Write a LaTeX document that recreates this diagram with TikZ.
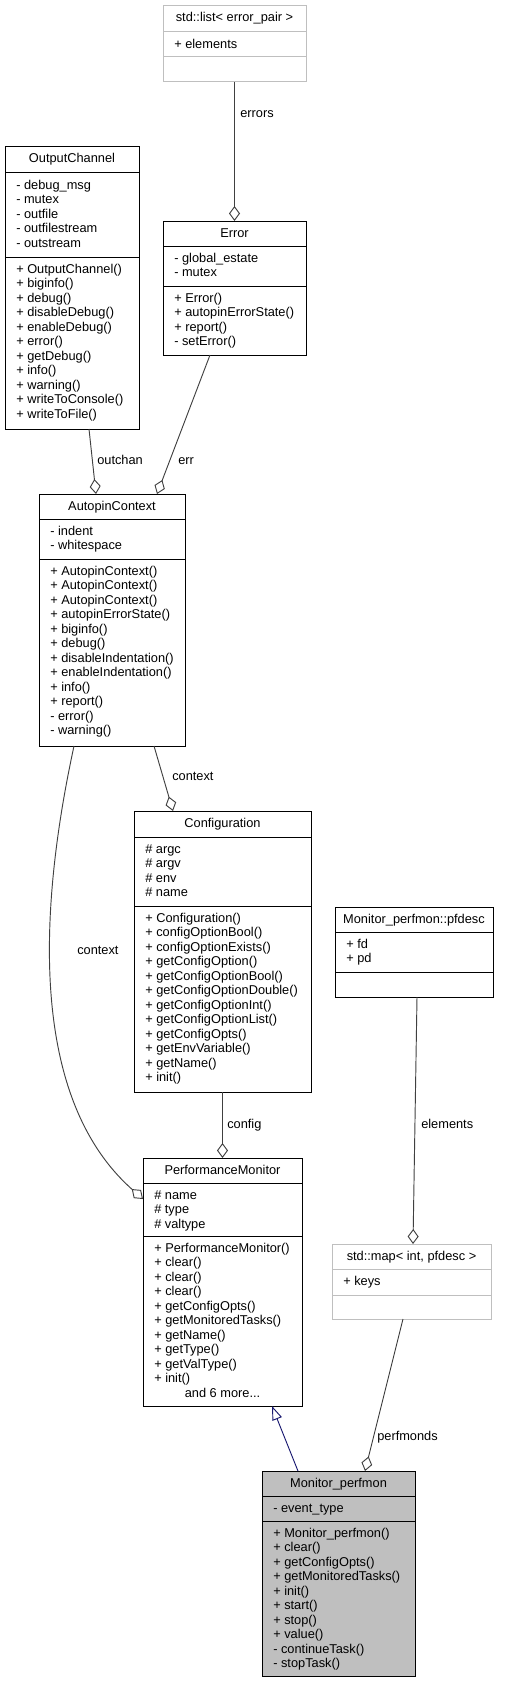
\documentclass[tikz,border=0pt]{standalone}
\usepackage{fontspec}
\setmainfont{Liberation Sans}
\usetikzlibrary{calc,arrows.meta}

\definecolor{edgegray}{HTML}{404040}
\definecolor{boxgray}{HTML}{BFBFBF}
\definecolor{navyblue}{HTML}{191970}
\newcommand{\umlfont}{\fontsize{9.6}{10.875}\selectfont}

\begin{document}
\begin{tikzpicture}[x=0.75pt, y=-0.75pt,
	classbox/.style={draw=black, line width=0.75pt, fill=white, inner sep=0pt, outer sep=0pt, anchor=north west},
	stdbox/.style={classbox, draw=boxgray},
	focusbox/.style={classbox, fill=boxgray},
	sepline/.style={draw=black, line width=0.75pt},
	stdsep/.style={sepline, draw=boxgray},
	title/.style={anchor=base, inner sep=0pt, font=\umlfont},
	members/.style={anchor=north west, inner sep=0pt, align=left, font=\umlfont},
	edgelabel/.style={anchor=base west, inner sep=0pt, font=\umlfont},
	uses/.style={draw=edgegray, line width=0.7pt, -{Diamond[open, length=11.25pt, width=8.25pt]}},
	inherits/.style={draw=navyblue, line width=0.7pt, -{Triangle[open, length=10.5pt, width=7.5pt]}}]

	% ---- parameters

	\def\px{0.75pt}

	\useasboundingbox (0,0) rectangle (507,1691);

	% ---- boxes

	\node[stdbox, minimum width=143*\px, minimum height=76*\px] (lst) at (163,6) {};
	\node[classbox, minimum width=134*\px, minimum height=282*\px] (oc) at (5,147) {};
	\node[classbox, minimum width=143*\px, minimum height=134*\px] (err) at (163,221) {};
	\node[classbox, minimum width=146*\px, minimum height=252*\px] (ac) at (39,494) {};
	\node[classbox, minimum width=177*\px, minimum height=281*\px] (cfg) at (134,811) {};
	\node[classbox, minimum width=158*\px, minimum height=90*\px] (pfd) at (335,907) {};
	\node[classbox, minimum width=159*\px, minimum height=248*\px] (pm) at (143,1158) {};
	\node[stdbox, minimum width=159*\px, minimum height=75*\px] (map) at (332,1244) {};
	\node[focusbox, minimum width=153*\px, minimum height=205*\px] (mp) at (262,1471) {};

	% ---- separators

	\draw[stdsep] (163,32) -- (306,32);
	\draw[stdsep] (163,57) -- (306,57);
	\draw[sepline] (5,173) -- (139,173);
	\draw[sepline] (5,257) -- (139,257);
	\draw[sepline] (163,246) -- (306,246);
	\draw[sepline] (163,286) -- (306,286);
	\draw[sepline] (39,519) -- (185,519);
	\draw[sepline] (39,559) -- (185,559);
	\draw[sepline] (134,837) -- (311,837);
	\draw[sepline] (134,906) -- (311,906);
	\draw[sepline] (335,932) -- (493,932);
	\draw[sepline] (335,972) -- (493,972);
	\draw[sepline] (143,1183) -- (302,1183);
	\draw[sepline] (143,1236) -- (302,1236);
	\draw[stdsep] (332,1269) -- (491,1269);
	\draw[stdsep] (332,1295) -- (491,1295);
	\draw[sepline] (262,1496) -- (415,1496);
	\draw[sepline] (262,1521) -- (415,1521);

	% ---- titles

	\node[title] (lst-title) at (234.5,22) {std::list< error\_pair >};
	\node[title] (oc-title) at (72,163) {OutputChannel};
	\node[title] (err-title) at (234.5,237) {Error};
	\node[title] (ac-title) at (112,510) {AutopinContext};
	\node[title] (cfg-title) at (222.5,827) {Configuration};
	\node[title] (pfd-title) at (414,923) {Monitor\_perfmon::pfdesc};
	\node[title] (pm-title) at (222.5,1174) {PerformanceMonitor};
	\node[title] (map-title) at (411.5,1260) {std::map< int, pfdesc >};
	\node[title] (mp-title) at (338.5,1487) {Monitor\_perfmon};

	% ---- members

	\node[members] (lst-attr) at (174,38) {\strut+ elements};

	\node[members] (oc-attr) at (16,179) {\strut- debug\_msg\\- mutex\\- outfile\\- outfilestream\\- outstream};
	\node[members] (oc-meth) at (16,263) {\strut+ OutputChannel()\\+ biginfo()\\+ debug()\\+ disableDebug()\\+ enableDebug()\\+ error()\\+ getDebug()\\+ info()\\+ warning()\\+ writeToConsole()\\+ writeToFile()};

	\node[members] (err-attr) at (174,252) {\strut- global\_estate\\- mutex};
	\node[members] (err-meth) at (174,292) {\strut+ Error()\\+ autopinErrorState()\\+ report()\\- setError()};

	\node[members] (ac-attr) at (50,525) {\strut- indent\\- whitespace};
	\node[members] (ac-meth) at (50,565) {\strut+ AutopinContext()\\+ AutopinContext()\\+ AutopinContext()\\+ autopinErrorState()\\+ biginfo()\\+ debug()\\+ disableIndentation()\\+ enableIndentation()\\+ info()\\+ report()\\- error()\\- warning()};

	\node[members] (cfg-attr) at (145,843) {\strut\# argc\\\# argv\\\# env\\\# name};
	\node[members] (cfg-meth) at (145,912) {\strut+ Configuration()\\+ configOptionBool()\\+ configOptionExists()\\+ getConfigOption()\\+ getConfigOptionBool()\\+ getConfigOptionDouble()\\+ getConfigOptionInt()\\+ getConfigOptionList()\\+ getConfigOpts()\\+ getEnvVariable()\\+ getName()\\+ init()};

	\node[members] (pfd-attr) at (346,938) {\strut+ fd\\+ pd};

	\node[members] (pm-attr) at (154,1189) {\strut\# name\\\# type\\\# valtype};
	\node[members] (pm-meth) at (154,1242) {\strut+ PerformanceMonitor()\\+ clear()\\+ clear()\\+ clear()\\+ getConfigOpts()\\+ getMonitoredTasks()\\+ getName()\\+ getType()\\+ getValType()\\+ init()};
	\node[title] (pm-more) at (222.5,1397) {and 6 more...};

	\node[members] (map-attr) at (343,1275) {\strut+ keys};

	\node[members] (mp-attr) at (273,1502) {\strut- event\_type};
	\node[members] (mp-meth) at (273,1527) {\strut+ Monitor\_perfmon()\\+ clear()\\+ getConfigOpts()\\+ getMonitoredTasks()\\+ init()\\+ start()\\+ stop()\\+ value()\\- continueTask()\\- stopTask()};

	% ---- connectors

	\draw[uses] (lst.south) -- (err.north);
	\draw[uses] ($(oc.south)+(17,0)$) -- ($(ac.north)+(-16,0)$);
	\draw[uses] ($(err.south)+(-24.5,0)$) -- ($(ac.north)+(45,0)$);
	\draw[uses] ($(ac.south)+(42,0)$) -- ($(cfg.north)+(-49.5,0)$);
	\draw[uses] ($(ac.south)+(-38,0)$) .. controls (45,880) and (20,1090) .. ($(pm.north west)+(0,41)$);
	\draw[uses] (cfg.south) -- (pm.north);
	\draw[uses] ($(pfd.south)+(3,0)$) -- ($(map.north)+(1.5,0)$);
	\draw[uses] ($(map.south)+(-8.5,0)$) -- ($(mp.north)+(26.5,0)$);
	\draw[inherits] ($(mp.north)+(-40.5,0)$) -- ($(pm.south)+(49.5,0)$);

	% ---- connector labels

	\node[edgelabel] (lbl-errors) at (240,117.5) {errors};
	\node[edgelabel] (lbl-outchan) at (97,464.5) {outchan};
	\node[edgelabel] (lbl-err) at (178,464.5) {err};
	\node[edgelabel] (lbl-context) at (172,780.5) {context};
	\node[edgelabel] (lbl-context2) at (77,954.5) {context};
	\node[edgelabel] (lbl-config) at (227,1128.5) {config};
	\node[edgelabel] (lbl-elements) at (421,1128.5) {elements};
	\node[edgelabel] (lbl-perfmonds) at (377,1440.5) {perfmonds};

\end{tikzpicture}
\end{document}
